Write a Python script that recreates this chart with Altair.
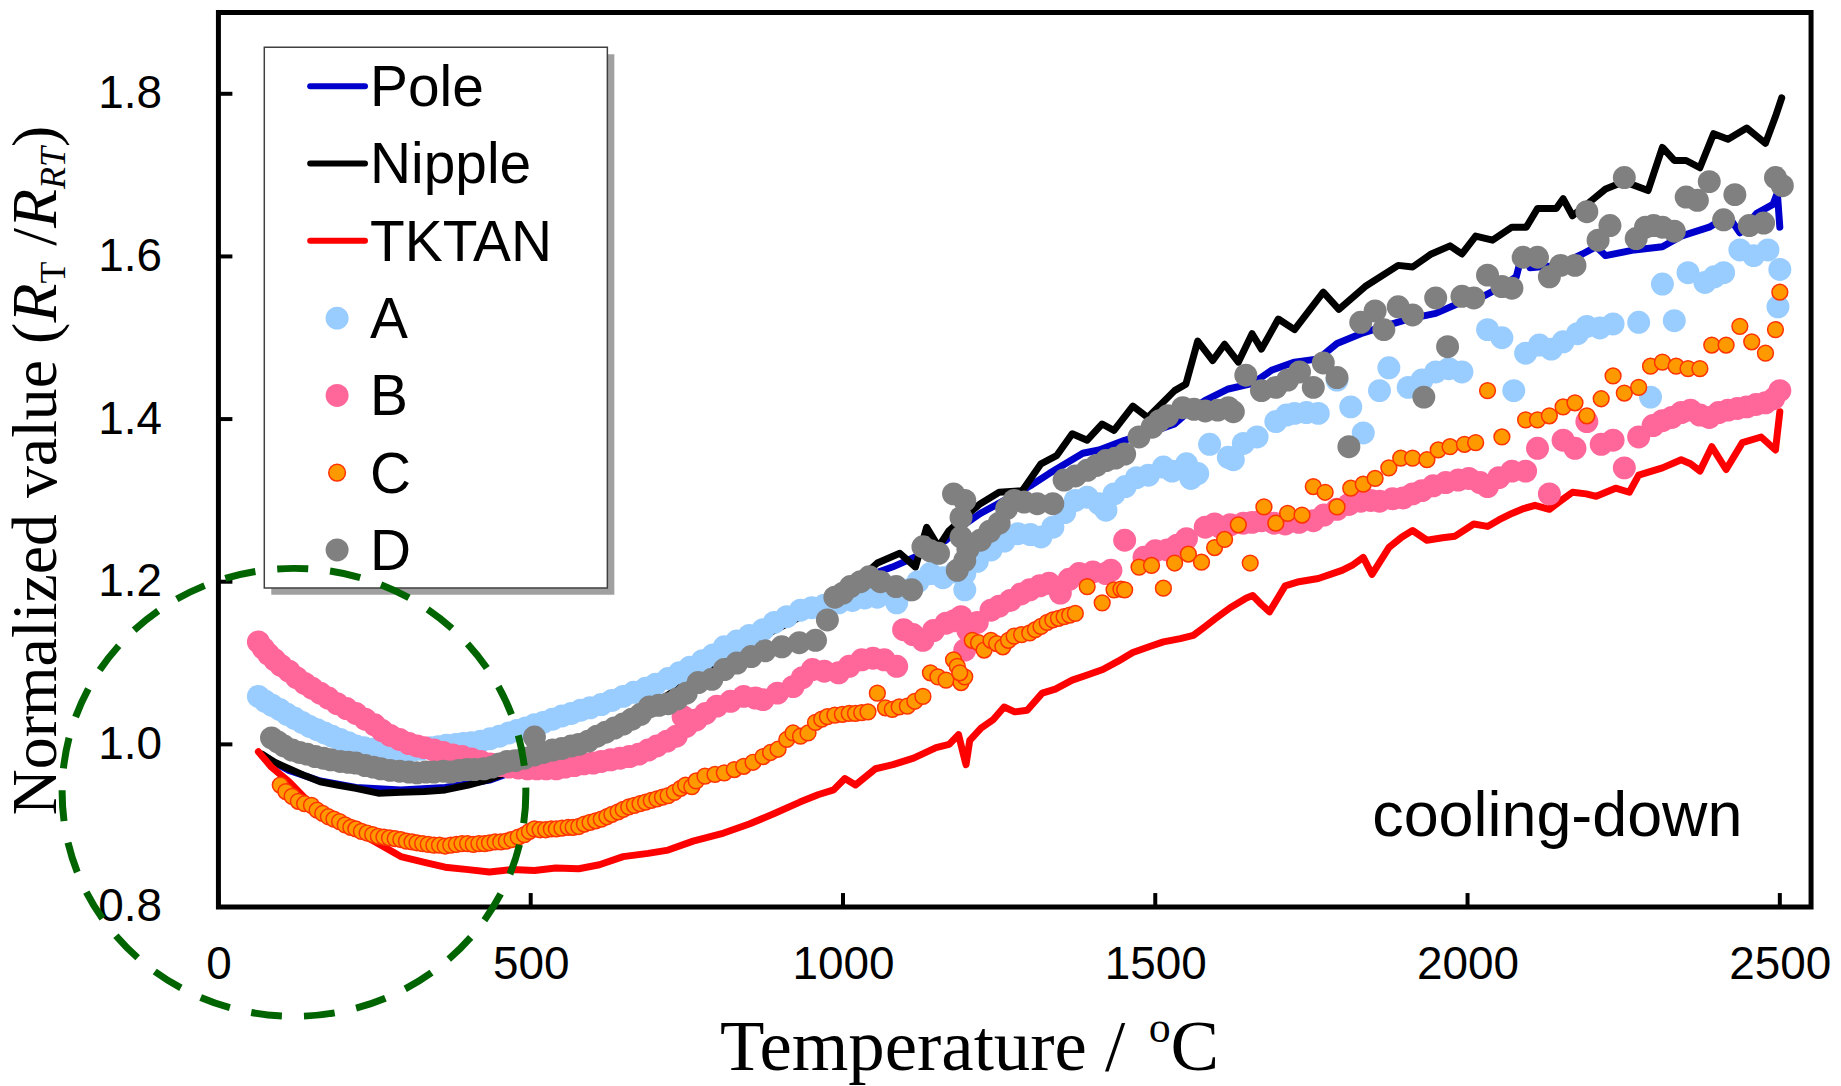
import altair as alt
import pandas as pd

# ---------------- data ----------------
SERIES = ["Pole", "Nipple", "TKTAN", "A", "B", "C", "D"]
X_TICKS = [0, 500, 1000, 1500, 2000, 2500]
Y_TICKS = [0.8, 1.0, 1.2, 1.4, 1.6, 1.8]

POLE = [(70, 0.986), (113, 0.968), (163, 0.955), (220, 0.947), (292, 0.944), (363, 0.947),
        (434, 0.956), (470, 0.966), (510, 0.983), (560, 0.998), (610, 1.016), (660, 1.034),
        (710, 1.054), (760, 1.080), (810, 1.108), (860, 1.130), (908, 1.149), (960, 1.170), (1010, 1.195),
        (1050, 1.210), (1079, 1.218), (1120, 1.232), (1165, 1.251), (1190, 1.268), (1220, 1.284),
        (1268, 1.304), (1300, 1.318), (1330, 1.333), (1384, 1.358), (1410, 1.362), (1451, 1.374),
        (1490, 1.383), (1531, 1.394), (1555, 1.410), (1580, 1.423), (1617, 1.437), (1656, 1.444),
        (1686, 1.460), (1723, 1.470), (1761, 1.474), (1791, 1.493), (1829, 1.505), (1866, 1.514),
        (1905, 1.523), (1949, 1.530), (1988, 1.543), (2025, 1.551), (2055, 1.563), (2078, 1.575),
        (2089, 1.608), (2100, 1.586), (2146, 1.589), (2184, 1.603), (2206, 1.612), (2221, 1.601),
        (2267, 1.608), (2312, 1.612), (2342, 1.625), (2387, 1.636), (2417, 1.650), (2436, 1.629),
        (2463, 1.653), (2489, 1.664), (2496, 1.678), (2500, 1.636)]

NIPPLE = [(70, 0.988), (90, 0.978), (113, 0.970), (140, 0.961), (163, 0.954), (190, 0.950),
          (220, 0.946), (256, 0.940), (292, 0.941), (330, 0.942), (363, 0.944), (400, 0.950),
          (434, 0.957), (470, 0.968), (510, 0.985), (560, 1.000), (610, 1.018), (660, 1.036),
          (710, 1.056), (760, 1.080), (810, 1.106), (860, 1.128), (910, 1.148), (960, 1.168),
          (1010, 1.192), (1055, 1.223), (1091, 1.235), (1116, 1.218), (1134, 1.267), (1153, 1.243),
          (1170, 1.263), (1195, 1.280), (1220, 1.296), (1250, 1.310), (1287, 1.312), (1317, 1.345),
          (1342, 1.355), (1367, 1.382), (1391, 1.374), (1415, 1.394), (1434, 1.386), (1464, 1.416),
          (1488, 1.402), (1531, 1.435), (1549, 1.443), (1568, 1.496), (1592, 1.472), (1611, 1.492),
          (1633, 1.470), (1655, 1.505), (1670, 1.486), (1697, 1.523), (1723, 1.510), (1769, 1.556),
          (1794, 1.535), (1836, 1.563), (1889, 1.589), (1912, 1.587), (1942, 1.603), (1972, 1.613),
          (1991, 1.603), (2013, 1.625), (2040, 1.620), (2071, 1.636), (2094, 1.636), (2112, 1.659),
          (2142, 1.659), (2153, 1.671), (2168, 1.650), (2191, 1.664), (2221, 1.683), (2251, 1.692),
          (2289, 1.681), (2312, 1.734), (2331, 1.718), (2350, 1.718), (2372, 1.709), (2394, 1.751),
          (2417, 1.744), (2447, 1.758), (2477, 1.739), (2493, 1.772), (2503, 1.795)]

TKTAN = [(64, 0.991), (85, 0.972), (113, 0.954), (150, 0.925), (192, 0.904), (240, 0.885),
         (292, 0.862), (330, 0.855), (363, 0.849), (400, 0.846), (434, 0.843), (470, 0.846),
         (506, 0.845), (540, 0.848), (577, 0.847), (610, 0.852), (648, 0.862), (688, 0.866),
         (720, 0.870), (760, 0.881), (809, 0.891), (850, 0.902), (890, 0.915), (931, 0.929),
         (960, 0.938), (985, 0.944), (1003, 0.958), (1020, 0.950), (1052, 0.970), (1080, 0.975),
         (1113, 0.983), (1149, 0.996), (1170, 1.000), (1185, 1.012), (1192, 0.990), (1197, 0.975),
         (1203, 1.005), (1221, 1.020), (1240, 1.030), (1258, 1.046), (1275, 1.040), (1295, 1.042),
         (1319, 1.063), (1340, 1.068), (1367, 1.079), (1390, 1.085), (1416, 1.092), (1440, 1.102),
         (1464, 1.113), (1490, 1.120), (1513, 1.126), (1540, 1.130), (1561, 1.134), (1580, 1.145),
         (1597, 1.155), (1620, 1.168), (1646, 1.180), (1656, 1.183), (1670, 1.172), (1683, 1.163),
         (1708, 1.195), (1730, 1.200), (1761, 1.204), (1799, 1.214), (1815, 1.220), (1833, 1.230),
         (1847, 1.209), (1874, 1.242), (1895, 1.255), (1912, 1.263), (1935, 1.251), (1960, 1.254),
         (1980, 1.256), (2010, 1.271), (2032, 1.268), (2050, 1.276), (2071, 1.284), (2090, 1.290),
         (2108, 1.294), (2131, 1.289), (2150, 1.300), (2168, 1.310), (2190, 1.308), (2206, 1.305),
         (2237, 1.315), (2259, 1.310), (2274, 1.331), (2295, 1.336), (2312, 1.340), (2342, 1.350),
         (2357, 1.345), (2372, 1.336), (2391, 1.366), (2414, 1.338), (2440, 1.371), (2470, 1.378),
         (2493, 1.362), (2500, 1.409)]

A_PTS = [(64, 1.059), (75, 1.053), (86, 1.048), (98, 1.043), (110, 1.037), (122, 1.032), (134, 1.027),
         (146, 1.022), (158, 1.018), (170, 1.014), (182, 1.010), (195, 1.006), (208, 1.002), (220, 0.998),
         (233, 0.996), (246, 0.994), (260, 0.992), (272, 0.991), (285, 0.991), (298, 0.992), (312, 0.993),
         (325, 0.994), (340, 0.996), (352, 0.997), (365, 0.999), (380, 1.000), (392, 1.001), (405, 1.002),
         (420, 1.004), (435, 1.007), (450, 1.010), (465, 1.014), (478, 1.017), (492, 1.020), (506, 1.024),
         (520, 1.027), (535, 1.031), (550, 1.035), (565, 1.038), (580, 1.042), (595, 1.045), (613, 1.049),
         (630, 1.054), (648, 1.059), (665, 1.064), (684, 1.069), (700, 1.074), (720, 1.081), (738, 1.088),
         (755, 1.095), (775, 1.103), (792, 1.110), (810, 1.120), (830, 1.127), (850, 1.134), (872, 1.141),
         (890, 1.150), (910, 1.157), (932, 1.165), (950, 1.168), (970, 1.171), (993, 1.174), (1015, 1.177),
         (1035, 1.180), (1055, 1.181), (1086, 1.174), (1105, 1.190), (1120, 1.200), (1140, 1.210),
         (1160, 1.205), (1180, 1.212), (1195, 1.210), (1195, 1.190), (1215, 1.225), (1237, 1.239),
         (1258, 1.250), (1280, 1.259), (1300, 1.258), (1317, 1.255), (1336, 1.267), (1355, 1.285),
         (1372, 1.300), (1391, 1.304), (1410, 1.296), (1421, 1.288), (1434, 1.308), (1452, 1.317),
         (1470, 1.328), (1489, 1.331), (1513, 1.341), (1527, 1.336), (1550, 1.345), (1557, 1.327),
         (1568, 1.333), (1587, 1.369), (1617, 1.353), (1625, 1.350), (1641, 1.370), (1663, 1.378),
         (1693, 1.397), (1710, 1.405), (1723, 1.407), (1742, 1.408), (1761, 1.407), (1791, 1.448),
         (1813, 1.415), (1833, 1.383), (1859, 1.435), (1874, 1.463), (1905, 1.439), (1927, 1.448),
         (1949, 1.458), (1970, 1.462), (1991, 1.458), (2032, 1.510), (2055, 1.500), (2074, 1.435),
         (2093, 1.481), (2115, 1.491), (2134, 1.486), (2153, 1.495), (2176, 1.505), (2191, 1.514),
         (2212, 1.512), (2233, 1.517), (2274, 1.519), (2293, 1.427), (2312, 1.566), (2331, 1.521),
         (2353, 1.580), (2380, 1.568), (2395, 1.575), (2410, 1.580), (2436, 1.608), (2458, 1.601),
         (2481, 1.608), (2500, 1.584), (2497, 1.538)]

B_PTS = [(64, 1.126), (72, 1.118), (80, 1.111), (90, 1.104), (100, 1.097), (113, 1.090), (125, 1.082),
         (138, 1.075), (150, 1.069), (163, 1.063), (176, 1.057), (190, 1.050), (205, 1.044), (220, 1.038),
         (235, 1.031), (250, 1.024), (262, 1.017), (275, 1.011), (290, 1.006), (305, 1.001), (318, 0.998),
         (330, 0.996), (345, 0.993), (360, 0.990), (375, 0.987), (390, 0.985), (405, 0.982), (420, 0.979),
         (435, 0.976), (450, 0.974), (465, 0.972), (480, 0.971), (495, 0.970), (510, 0.970), (525, 0.970),
         (541, 0.970), (555, 0.972), (570, 0.974), (585, 0.976), (600, 0.977), (613, 0.979), (628, 0.981),
         (643, 0.983), (658, 0.985), (673, 0.988), (688, 0.993), (702, 0.998), (718, 1.004), (733, 1.010),
         (744, 1.034), (749, 1.022), (765, 1.030), (780, 1.038), (798, 1.047), (820, 1.053), (841, 1.059),
         (860, 1.057), (872, 1.055), (895, 1.063), (920, 1.071), (935, 1.082), (951, 1.092), (970, 1.090),
         (993, 1.088), (1010, 1.096), (1030, 1.104), (1048, 1.106), (1066, 1.104), (1086, 1.096),
         (1097, 1.141), (1112, 1.135), (1128, 1.128), (1145, 1.140), (1165, 1.149), (1178, 1.152),
         (1189, 1.157), (1195, 1.116), (1200, 1.140), (1215, 1.150), (1237, 1.165), (1250, 1.170),
         (1268, 1.177), (1285, 1.185), (1299, 1.190), (1315, 1.195), (1330, 1.198), (1348, 1.186),
         (1362, 1.203), (1378, 1.210), (1400, 1.212), (1421, 1.210), (1429, 1.214), (1451, 1.251),
         (1482, 1.230), (1500, 1.238), (1519, 1.239), (1535, 1.245), (1550, 1.253), (1580, 1.267),
         (1595, 1.271), (1604, 1.267), (1620, 1.270), (1641, 1.272), (1655, 1.273), (1670, 1.275),
         (1690, 1.272), (1708, 1.271), (1730, 1.273), (1753, 1.275), (1770, 1.282), (1791, 1.289),
         (1810, 1.295), (1829, 1.299), (1845, 1.300), (1859, 1.299), (1880, 1.302), (1897, 1.303),
         (1912, 1.308), (1927, 1.312), (1945, 1.318), (1965, 1.322), (1985, 1.325), (2002, 1.327),
         (2020, 1.322), (2032, 1.317), (2050, 1.328), (2071, 1.336), (2093, 1.336), (2112, 1.364),
         (2131, 1.308), (2153, 1.374), (2172, 1.364), (2191, 1.397), (2214, 1.369), (2233, 1.374),
         (2251, 1.340), (2274, 1.378), (2297, 1.392), (2312, 1.398), (2327, 1.402), (2342, 1.408),
         (2357, 1.411), (2372, 1.405), (2387, 1.402), (2402, 1.408), (2417, 1.411), (2432, 1.413),
         (2447, 1.415), (2462, 1.418), (2477, 1.420), (2490, 1.425), (2500, 1.435)]

C_PTS = [(99, 0.950), (108, 0.942), (118, 0.936), (128, 0.930), (138, 0.927), (149, 0.925), (158, 0.919),
         (167, 0.915), (176, 0.911), (185, 0.908), (194, 0.905), (203, 0.901), (212, 0.898), (220, 0.896),
         (229, 0.893), (238, 0.891), (247, 0.889), (256, 0.887), (265, 0.886), (274, 0.885), (283, 0.884),
         (292, 0.883), (301, 0.881), (310, 0.880), (318, 0.879), (327, 0.878), (336, 0.877), (345, 0.876),
         (354, 0.876), (363, 0.875), (372, 0.876), (381, 0.877), (390, 0.878), (399, 0.878), (408, 0.877),
         (417, 0.878), (426, 0.878), (434, 0.879), (443, 0.880), (452, 0.880), (461, 0.881), (470, 0.883),
         (480, 0.886), (490, 0.889), (498, 0.893), (506, 0.896), (515, 0.895), (524, 0.895), (533, 0.896),
         (541, 0.896), (550, 0.897), (560, 0.898), (568, 0.898), (577, 0.899), (586, 0.902), (595, 0.904),
         (604, 0.906), (613, 0.908), (622, 0.911), (630, 0.914), (640, 0.917), (648, 0.920), (657, 0.923),
         (666, 0.925), (675, 0.927), (684, 0.929), (693, 0.931), (702, 0.933), (711, 0.935), (720, 0.937),
         (730, 0.941), (740, 0.946), (748, 0.950), (758, 0.948), (765, 0.955), (779, 0.961), (795, 0.963),
         (810, 0.965), (826, 0.969), (841, 0.973), (856, 0.978), (872, 0.985), (884, 0.990), (896, 0.994),
         (910, 1.006), (920, 1.014), (932, 1.010), (944, 1.014), (956, 1.027), (966, 1.031), (975, 1.034),
         (987, 1.036), (999, 1.037), (1010, 1.038), (1020, 1.038), (1030, 1.039), (1040, 1.040),
         (1055, 1.063), (1068, 1.045), (1079, 1.043), (1090, 1.046), (1103, 1.047), (1115, 1.053),
         (1128, 1.059), (1140, 1.088), (1152, 1.083), (1165, 1.079), (1177, 1.104), (1183, 1.096),
         (1189, 1.076), (1195, 1.083), (1187, 1.088), (1207, 1.128), (1217, 1.125), (1226, 1.116),
         (1237, 1.128), (1246, 1.124), (1256, 1.120), (1265, 1.128), (1274, 1.133), (1286, 1.135),
         (1299, 1.137), (1308, 1.141), (1317, 1.145), (1327, 1.150), (1336, 1.153), (1345, 1.155),
         (1354, 1.157), (1363, 1.159), (1372, 1.161), (1391, 1.194), (1415, 1.174), (1434, 1.190),
         (1445, 1.191), (1451, 1.190), (1474, 1.218), (1494, 1.220), (1513, 1.192), (1531, 1.223),
         (1553, 1.234), (1574, 1.224), (1595, 1.242), (1611, 1.252), (1633, 1.270), (1652, 1.223),
         (1674, 1.292), (1693, 1.272), (1712, 1.284), (1735, 1.282), (1753, 1.317), (1772, 1.310),
         (1791, 1.292), (1813, 1.315), (1833, 1.320), (1852, 1.327), (1874, 1.340), (1893, 1.352),
         (1912, 1.352), (1935, 1.350), (1953, 1.362), (1972, 1.366), (1995, 1.369), (2013, 1.371),
         (2032, 1.435), (2055, 1.378), (2093, 1.399), (2112, 1.399), (2131, 1.404), (2153, 1.415),
         (2172, 1.420), (2191, 1.404), (2214, 1.425), (2233, 1.453), (2251, 1.432), (2274, 1.439),
         (2293, 1.465), (2312, 1.470), (2334, 1.465), (2353, 1.462), (2372, 1.462), (2391, 1.491),
         (2414, 1.491), (2436, 1.514), (2455, 1.495), (2477, 1.481), (2493, 1.510), (2500, 1.556)]

D_PTS = [(85, 1.008), (95, 1.003), (105, 0.998), (118, 0.993), (130, 0.990), (142, 0.988), (155, 0.985),
         (168, 0.983), (180, 0.981), (195, 0.979), (208, 0.978), (220, 0.977), (235, 0.974), (248, 0.972),
         (260, 0.970), (275, 0.968), (290, 0.967), (305, 0.966), (318, 0.965), (332, 0.966), (345, 0.966),
         (360, 0.967), (372, 0.966), (385, 0.968), (398, 0.969), (410, 0.969), (425, 0.970), (438, 0.972),
         (450, 0.976), (462, 0.979), (475, 0.980), (490, 0.983), (506, 0.987), (506, 1.009), (520, 0.990),
         (535, 0.993), (550, 0.995), (565, 0.998), (577, 1.000), (592, 1.004), (606, 1.010), (620, 1.015),
         (634, 1.020), (648, 1.025), (662, 1.031), (676, 1.037), (690, 1.046), (705, 1.048), (720, 1.050),
         (735, 1.056), (749, 1.063), (768, 1.076), (790, 1.080), (810, 1.092), (830, 1.100), (853, 1.108),
         (875, 1.115), (902, 1.120), (930, 1.125), (956, 1.128), (975, 1.153), (987, 1.181), (1000, 1.186),
         (1012, 1.194), (1028, 1.200), (1042, 1.206), (1060, 1.200), (1085, 1.194), (1110, 1.190),
         (1128, 1.243), (1140, 1.238), (1153, 1.235), (1177, 1.308), (1195, 1.300), (1189, 1.279),
         (1189, 1.255), (1195, 1.226), (1183, 1.214), (1200, 1.240), (1220, 1.251), (1235, 1.262),
         (1250, 1.272), (1262, 1.290), (1274, 1.300), (1290, 1.298), (1311, 1.296), (1336, 1.296),
         (1354, 1.325), (1372, 1.330), (1391, 1.337), (1406, 1.343), (1421, 1.349), (1436, 1.352),
         (1451, 1.357), (1474, 1.378), (1495, 1.390), (1507, 1.398), (1520, 1.404), (1544, 1.414),
         (1562, 1.412), (1580, 1.410), (1600, 1.411), (1617, 1.414), (1625, 1.409), (1645, 1.454),
         (1670, 1.435), (1693, 1.439), (1712, 1.448), (1731, 1.458), (1753, 1.439), (1769, 1.469),
         (1791, 1.451), (1810, 1.366), (1829, 1.519), (1852, 1.533), (1866, 1.510), (1889, 1.538),
         (1912, 1.528), (1930, 1.427), (1949, 1.549), (1968, 1.489), (1991, 1.551), (2010, 1.549),
         (2032, 1.577), (2055, 1.563), (2071, 1.561), (2089, 1.599), (2112, 1.599), (2131, 1.575),
         (2149, 1.589), (2172, 1.589), (2191, 1.655), (2209, 1.620), (2228, 1.638), (2251, 1.697),
         (2270, 1.622), (2285, 1.636), (2298, 1.638), (2312, 1.636), (2331, 1.631), (2350, 1.673),
         (2368, 1.669), (2387, 1.692), (2410, 1.645), (2428, 1.676), (2451, 1.638), (2474, 1.641),
         (2493, 1.697), (2504, 1.687)]

# highlighted region (dashed ellipse) centre, in data units
CIRCLE_X = [121]
CIRCLE_Y = [0.941]
ANNOTATION = "cooling-down"

# ---------------- styling ----------------
W, H = 1597, 897
SANS = "Liberation Sans"
SERIF = "Liberation Serif"
LINE_COLORS = {"Pole": "#0000CC", "Nipple": "#000000", "TKTAN": "#FF0000"}
DOT_STYLE = {
    "A": dict(fill="#99CCFF", stroke="#99CCFF", strokeWidth=0, size=530),
    "B": dict(fill="#FF6699", stroke="#FF6699", strokeWidth=0, size=530),
    "C": dict(fill="#FF9900", stroke="#FF3300", strokeWidth=1.5, size=250),
    "D": dict(fill="#808080", stroke="#808080", strokeWidth=0, size=530),
}
LEGEND_DOT_SIZE = {"A": 530, "B": 530, "C": 280, "D": 530}

xscale = alt.Scale(domain=[0, 2550], nice=False, zero=False)
yscale = alt.Scale(domain=[0.8, 1.9], nice=False, zero=False)
xaxis = alt.Axis(values=X_TICKS, format="d", title=None, grid=False, domain=False, ticks=False,
                 tickSize=0, labelPadding=36, labelFont=SANS, labelFontSize=46, labelColor="black",
                 labelFlush=False, labelOverlap=False)
yaxis = alt.Axis(values=Y_TICKS, format=".1f", title=None, grid=False, domain=False, ticks=False,
                 tickSize=0, labelPadding=57, labelFont=SANS, labelFontSize=46, labelColor="black",
                 labelFlush=False, labelOverlap=False)


def X(field="x"):
    return alt.X(f"{field}:Q", scale=xscale, axis=xaxis)


def Y(field="y"):
    return alt.Y(f"{field}:Q", scale=yscale, axis=yaxis)


def frame(pairs):
    d = pd.DataFrame(pairs, columns=["x", "y"])
    d["i"] = range(len(d))
    return d


ONE = pd.DataFrame({"k": [0]})
layers = []

# lines
for name, pts in [("Pole", POLE), ("Nipple", NIPPLE), ("TKTAN", TKTAN)]:
    layers.append(
        alt.Chart(frame(pts)).mark_line(color=LINE_COLORS[name], strokeWidth=7,
                                        strokeJoin="round", strokeCap="round")
        .encode(x=X(), y=Y(), order="i:Q"))

# scatter series
for name, pts in [("A", A_PTS), ("B", B_PTS), ("C", C_PTS), ("D", D_PTS)]:
    st = DOT_STYLE[name]
    layers.append(
        alt.Chart(frame(pts)).mark_point(shape="circle", filled=True, opacity=1,
                                         fill=st["fill"], stroke=st["stroke"],
                                         strokeWidth=st["strokeWidth"], size=st["size"])
        .encode(x=X(), y=Y()))

# inward ticks
layers.append(alt.Chart(pd.DataFrame({"x": X_TICKS})).mark_rule(color="black", strokeWidth=4)
              .encode(x=X(), y=alt.value(H), y2=alt.value(H - 14)))
layers.append(alt.Chart(pd.DataFrame({"y": Y_TICKS})).mark_rule(color="black", strokeWidth=4)
              .encode(y=Y(), x=alt.value(0), x2=alt.value(14)))

# legend box with shadow
LX0, LX1, LY0, LY1 = 46, 390, 35, 577
layers.append(alt.Chart(ONE).mark_rect(fill="#808080", opacity=0.75)
              .encode(x=alt.value(LX0 + 7), x2=alt.value(LX1 + 7), y=alt.value(LY0 + 7), y2=alt.value(LY1 + 7)))
layers.append(alt.Chart(ONE).mark_rect(fill="white", stroke="#404040", strokeWidth=1.5)
              .encode(x=alt.value(LX0), x2=alt.value(LX1), y=alt.value(LY0), y2=alt.value(LY1)))

LEG_TOP, LEG_STEP = 74, 77.5
for i, name in enumerate(SERIES):
    cy = LEG_TOP + i * LEG_STEP
    if name in LINE_COLORS:
        layers.append(alt.Chart(ONE).mark_rule(color=LINE_COLORS[name], strokeWidth=6, strokeCap="round")
                      .encode(x=alt.value(92), x2=alt.value(147), y=alt.value(cy)))
    else:
        st = DOT_STYLE[name]
        layers.append(alt.Chart(ONE).mark_point(shape="circle", filled=True, opacity=1,
                                                fill=st["fill"], stroke=st["stroke"],
                                                strokeWidth=st["strokeWidth"], size=LEGEND_DOT_SIZE[name])
                      .encode(x=alt.value(119), y=alt.value(cy)))
    layers.append(alt.Chart(ONE).mark_text(text=name, font=SANS, fontSize=57, align="left",
                                           baseline="middle", color="black")
                  .encode(x=alt.value(152), y=alt.value(cy + 3)))

# annotation
layers.append(alt.Chart(ONE).mark_text(text=ANNOTATION, font=SANS, fontSize=63, align="left",
                                       baseline="alphabetic", color="black")
              .encode(x=alt.value(1157), y=alt.value(826)))

# Times-like advance widths (em) for composing the rich-text axis titles
TW = {"N": .722, "o": .5, "r": .333, "m": .778, "a": .444, "l": .278, "i": .278, "z": .444,
      "e": .444, "d": .5, " ": .25, "v": .5, "u": .5, "(": .333, ")": .333, "/": .278,
      "T": .611, "p": .5, "t": .278, "C": .667}
TWI = {"R": .611, "T": .556}


def tw(s, size, italic=False):
    tab = TWI if italic else TW
    return sum(tab.get(c, .5) for c in s) * size


# x title: "Temperature / ºC" (superscript o)
xt_x, xt_y, xt_fs, sup_fs = 503, 1060, 73, 44
pieces = [("Temperature /", xt_x, xt_y, xt_fs)]
ox = xt_x + tw("Temperature / ", xt_fs)
pieces.append(("o", ox, xt_y - 28, sup_fs))
pieces.append(("C", ox + tw("o", sup_fs), xt_y, xt_fs))
for txt, px, py, fs in pieces:
    layers.append(alt.Chart(ONE).mark_text(text=txt, font=SERIF, fontSize=fs, align="left",
                                           baseline="alphabetic", color="black")
                  .encode(x=alt.value(px), y=alt.value(py)))

# y title: "Normalized value (R_T /R_RT)" rotated; (text, italic, size, subscript shift, advance)
yb, ystart, fs_main, fs_sub = -163, 805, 64, 36
ypieces = [("Normalized value (", False, fs_main, 0, tw("Normalized value (", fs_main)),
           ("R", True, fs_main, 0, tw("R", fs_main, True)),
           ("T", False, fs_sub, 9, tw("T", fs_sub) + tw(" ", fs_main)),
           ("/", False, fs_main, 0, tw("/", fs_main)),
           ("R", True, fs_main, 0, tw("R", fs_main, True)),
           ("RT", True, fs_sub, 9, tw("RT", fs_sub, True)),
           (")", False, fs_main, 0, tw(")", fs_main))]
pos = ystart
for txt, ital, fs, shift, adv in ypieces:
    layers.append(alt.Chart(ONE).mark_text(text=txt, font=SERIF, fontSize=fs, align="left",
                                           baseline="alphabetic", angle=270, color="black",
                                           fontStyle="italic" if ital else "normal")
                  .encode(x=alt.value(yb + shift), y=alt.value(pos)))
    pos -= adv

# dashed ellipse highlighting the low-temperature region
ELLIPSE = "M1,0A1,0.966,0,1,1,-1,0A1,0.966,0,1,1,1,0Z"
layers.append(alt.Chart(pd.DataFrame({"x": CIRCLE_X, "y": CIRCLE_Y}))
              .mark_point(shape=ELLIPSE, size=465 * 465, filled=False, color="#006400",
                          strokeWidth=7, strokeDash=[31, 22], opacity=1)
              .encode(x=X(), y=Y()))

chart = (alt.layer(*layers)
         .properties(width=W, height=H, autosize=alt.AutoSizeParams(type="none"),
                     padding={"left": 211, "top": 3, "right": 22, "bottom": 177})
         .configure_view(stroke="black", strokeWidth=5))

chart.save("out.html", embed_options={"renderer": "svg", "actions": False})
